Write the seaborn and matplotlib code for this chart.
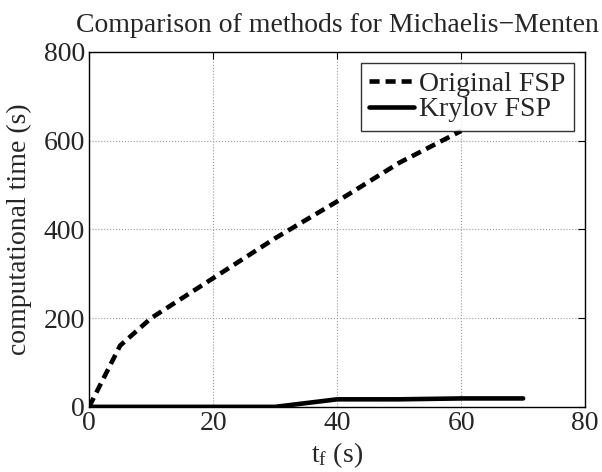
import pandas as pd
import seaborn as sns
from matplotlib import pyplot as plt

# values
t_orig = [0, 5, 10, 20, 30, 40, 50, 60]
time_orig = [0, 138, 200, 290, 380, 463, 550, 622]
t_kry = [0, 10, 20, 30, 40, 50, 60, 70]
time_kry = [0, 0, 0, 0, 17, 17, 19, 19]

df = pd.concat([
    pd.DataFrame({'t': t_orig, 'time': time_orig, 'method': 'Original FSP'}),
    pd.DataFrame({'t': t_kry, 'time': time_kry, 'method': 'Krylov FSP'}),
])

sns.set_style('white')
plt.rcParams['font.family'] = ['Liberation Serif', 'DejaVu Serif']
plt.rcParams['mathtext.fontset'] = 'custom'
plt.rcParams['mathtext.rm'] = 'Liberation Serif'
plt.rcParams['mathtext.it'] = 'Liberation Serif:italic'

fig = plt.figure(figsize=(6.02, 4.72), dpi=100)
ax = fig.add_axes([0.148, 0.138, 0.824, 0.752])

ax = sns.lineplot(data=df, x='t', y='time', style='method',
                  dashes={'Original FSP': (2.2, 1.3), 'Krylov FSP': ''},
                  color='black', linewidth=3.3, ax=ax)

ax.set_xlim(0, 80)
ax.set_ylim(0, 800)
ax.set_xticks([0, 20, 40, 60, 80])
ax.set_yticks([0, 200, 400, 600, 800])
ax.grid(True, linestyle=':', color='#999999', linewidth=0.8)
ax.tick_params(direction='in', labelsize=20, length=5, color='black',
               top=True, right=True, pad=3)
for s in ax.spines.values():
    s.set_color('black')
    s.set_linewidth(1)

ax.set_xlabel(r'$\mathregular{t_f}$ (s)', fontsize=20, labelpad=3)
ax.set_ylabel('computational time (s)', fontsize=20, labelpad=8)
ax.set_title('Comparison of methods for Michaelis\u2212Menten', fontsize=20, pad=14)

leg = ax.legend(loc='upper right', fontsize=20, frameon=True, fancybox=False,
                edgecolor='black', handlelength=1.6, handletextpad=0.2,
                borderpad=0.3, labelspacing=0.0, borderaxespad=0.4)
leg.get_frame().set_linewidth(1)

fig.savefig('out.png', dpi=100)
